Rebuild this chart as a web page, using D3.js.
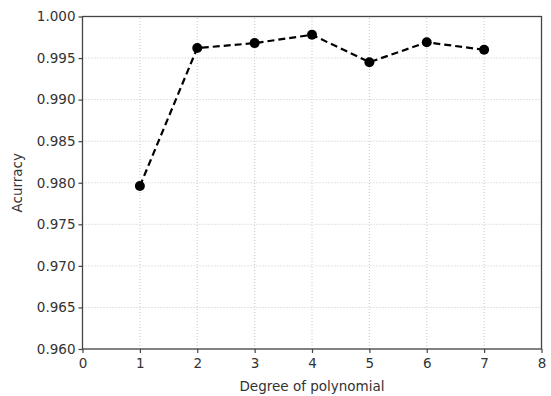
<!DOCTYPE html>
<html>
<head>
<meta charset="utf-8">
<script src="https://cdn.jsdelivr.net/npm/d3@7"></script>
<style>
  body { margin: 0; background: #fff; }
  text { font-family: "DejaVu Sans", sans-serif; fill: #333; }
</style>
</head>
<body>
<div id="chart"></div>
<script>
// data
const degrees = [1, 2, 3, 4, 5, 6, 7];
const accuracy = [0.9796, 0.9962, 0.9968, 0.9978, 0.9945, 0.9969, 0.9960];
const xTicks = [0, 1, 2, 3, 4, 5, 6, 7, 8];
const yTicks = [0.960, 0.965, 0.970, 0.975, 0.980, 0.985, 0.990, 0.995, 1.000];

const width = 551, height = 396;
const margin = { top: 16.5, right: 9.5, bottom: 47, left: 82.5 };

const svg = d3.select("#chart")
  .append("svg")
  .attr("width", width)
  .attr("height", height);

const x = d3.scaleLinear().domain([0, 8]).range([margin.left, width - margin.right]);
const y = d3.scaleLinear().domain([0.96, 1.0]).range([height - margin.bottom, margin.top]);

// grid lines
svg.append("g")
  .selectAll("line")
  .data(xTicks)
  .join("line")
  .attr("x1", d => x(d)).attr("x2", d => x(d))
  .attr("y1", y(0.96)).attr("y2", y(1.0))
  .attr("stroke", "#c8c8c8")
  .attr("stroke-dasharray", "1,2");

svg.append("g")
  .selectAll("line")
  .data(yTicks)
  .join("line")
  .attr("x1", x(0)).attr("x2", x(8))
  .attr("y1", d => y(d)).attr("y2", d => y(d))
  .attr("stroke", "#c8c8c8")
  .attr("stroke-dasharray", "1,2");

// axes
const xAxis = svg.append("g")
  .attr("transform", `translate(0,${y(0.96)})`)
  .call(d3.axisBottom(x).tickValues(xTicks).tickFormat(d3.format("d")).tickSize(4).tickSizeOuter(0));

const yAxis = svg.append("g")
  .attr("transform", `translate(${x(0)},0)`)
  .call(d3.axisLeft(y).tickValues(yTicks).tickFormat(d3.format(".3f")).tickSize(4).tickSizeOuter(0));

[xAxis, yAxis].forEach(g => {
  g.selectAll("text").style("font-size", "13.5px").attr("fill", "#333");
  g.selectAll("line").attr("stroke", "#444").attr("stroke-width", 1.2);
  g.select(".domain").remove();
});
xAxis.selectAll("text").attr("dy", "0.9em");

// frame
svg.append("rect")
  .attr("x", x(0)).attr("y", y(1.0))
  .attr("width", x(8) - x(0))
  .attr("height", y(0.96) - y(1.0))
  .attr("fill", "none")
  .attr("stroke", "#444")
  .attr("stroke-width", 1.3);

// dashed line
const line = d3.line()
  .x((d, i) => x(degrees[i]))
  .y(d => y(d));

svg.append("path")
  .datum(accuracy)
  .attr("d", line)
  .attr("fill", "none")
  .attr("stroke", "#000")
  .attr("stroke-width", 2.2)
  .attr("stroke-dasharray", "7,4");

svg.append("g")
  .selectAll("circle")
  .data(accuracy)
  .join("circle")
  .attr("cx", (d, i) => x(degrees[i]))
  .attr("cy", d => y(d))
  .attr("r", 5)
  .attr("fill", "#000");

// labels
svg.append("text")
  .attr("x", (x(0) + x(8)) / 2)
  .attr("y", 391)
  .attr("text-anchor", "middle")
  .style("font-size", "13.5px")
  .text("Degree of polynomial");

svg.append("text")
  .attr("transform", `translate(22,${(y(0.96) + y(1.0)) / 2}) rotate(-90)`)
  .attr("text-anchor", "middle")
  .style("font-size", "13.5px")
  .text("Acurracy");
</script>
</body>
</html>
